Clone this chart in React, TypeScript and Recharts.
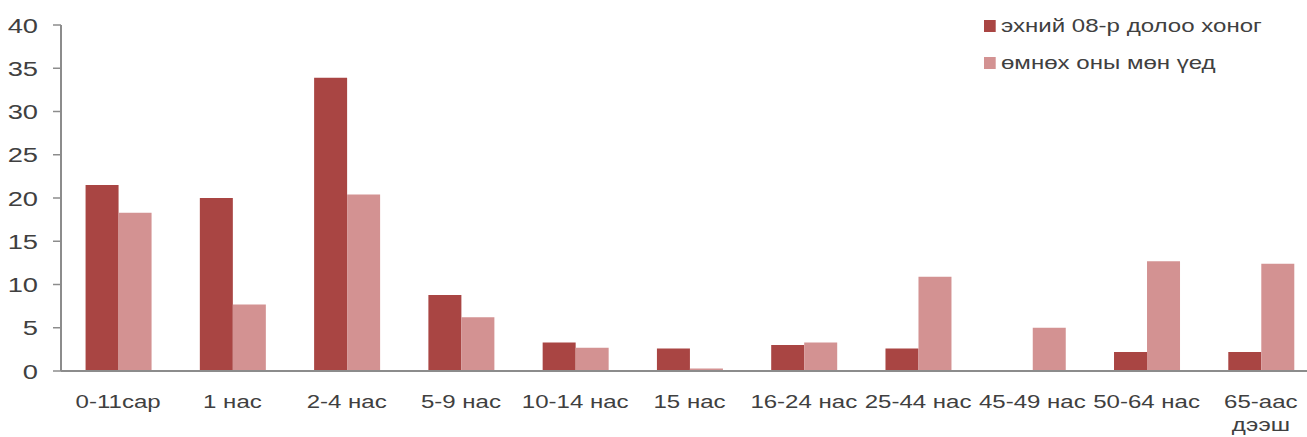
import { Bar, BarChart, XAxis, YAxis } from "recharts";

const categories = [
    "0-11сар",
    "1 нас",
    "2-4 нас",
    "5-9 нас",
    "10-14 нас",
    "15 нас",
    "16-24 нас",
    "25-44 нас",
    "45-49 нас",
    "50-64 нас",
    "65-аас\nдээш",
];
const currentWeek = [21.5, 20.0, 33.9, 8.8, 3.3, 2.6, 3.0, 2.6, 0, 2.2, 2.2];
const lastYear = [18.3, 7.7, 20.4, 6.2, 2.7, 0.3, 3.3, 10.9, 5.0, 12.7, 12.4];
const yTicks = [0, 5, 10, 15, 20, 25, 30, 35, 40];

const seriesNames = ["эхний 08-р долоо хоног", "өмнөх оны мөн үед"];
const colors = ["#a94543", "#d39292"];

const data = categories.map((name, i) => ({
    name,
    current: currentWeek[i],
    prev: lastYear[i],
}));

const font = "'Liberation Sans', Arial, sans-serif";
const textColor = "#404040";
const stretch = 1.3; // text in the reference is wider than it is tall

function XTick({ x, y, payload }: any) {
    const lines = String(payload.value).split("\n");
    return (
        <g transform={`translate(${x},${y})`}>
            <text
                transform={`scale(${stretch},1)`}
                textAnchor="middle"
                fill={textColor}
                fontSize={18.5}
                fontFamily={font}
            >
                {lines.map((l, i) => (
                    <tspan key={i} x={0} dy={i === 0 ? 29 : 23}>
                        {l}
                    </tspan>
                ))}
            </text>
        </g>
    );
}

function YTick({ x, y, payload }: any) {
    return (
        <g transform={`translate(${x},${y})`}>
            <text
                transform={`scale(${stretch},1)`}
                textAnchor="end"
                dy="0.36em"
                fill={textColor}
                fontSize={21}
                fontFamily={font}
            >
                {payload.value}
            </text>
        </g>
    );
}

function LegendBox() {
    return (
        <div
            style={{
                position: "absolute",
                left: 984,
                top: 7,
                fontFamily: font,
                fontSize: 18.5,
                color: textColor,
                transform: `scaleX(${stretch})`,
                transformOrigin: "0 0",
                whiteSpace: "nowrap",
            }}
        >
            {seriesNames.map((n, i) => (
                <div key={n} style={{ display: "flex", alignItems: "center", height: 37 }}>
                    <span
                        style={{
                            width: 12 / stretch,
                            height: 12,
                            background: colors[i],
                            marginRight: 5 / stretch,
                            display: "inline-block",
                        }}
                    />
                    <span>{n}</span>
                </div>
            ))}
        </div>
    );
}

export default function App() {
    return (
        <div
            style={{
                position: "absolute",
                left: 0,
                top: 0,
                width: 1307,
                height: 437,
                overflow: "hidden",
                background: "#fff",
            }}
        >
            <BarChart
                width={1330}
                height={437}
                data={data}
                margin={{ top: 25, right: 12, left: 0, bottom: 0 }}
                barCategoryGap="21.5%"
                barGap={0}
            >
                <XAxis
                    dataKey="name"
                    height={66}
                    tickLine={false}
                    axisLine={{ stroke: "#8c8c8c", strokeWidth: 2 }}
                    tick={<XTick />}
                    interval={0}
                />
                <YAxis
                    width={61}
                    domain={[0, 40]}
                    ticks={yTicks}
                    interval={0}
                    axisLine={{ stroke: "#8c8c8c", strokeWidth: 2 }}
                    tickLine={{ stroke: "#8c8c8c", strokeWidth: 1.5 }}
                    tickSize={8}
                    tickMargin={15}
                    tick={<YTick />}
                />
                <Bar dataKey="current" name={seriesNames[0]} fill={colors[0]} isAnimationActive={false} />
                <Bar dataKey="prev" name={seriesNames[1]} fill={colors[1]} isAnimationActive={false} />
            </BarChart>
            <LegendBox />
        </div>
    );
}
